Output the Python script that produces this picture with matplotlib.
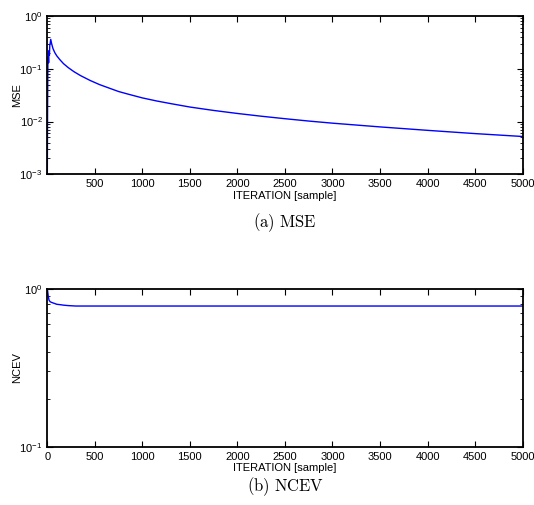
import numpy as np
import matplotlib
matplotlib.use("Agg")
import matplotlib.pyplot as plt
from matplotlib.ticker import LogLocator, NullFormatter

plt.rcParams['font.family'] = ['Liberation Sans', 'DejaVu Sans']
plt.rcParams['mathtext.default'] = 'regular'

# MSE curve
mse_iter = [0, 3, 6, 10, 14, 18, 22, 26, 30, 36, 45, 60, 80, 100, 130, 170, 220, 280,
            350, 450, 550, 650, 750, 850, 1000, 1150, 1300, 1500, 1750, 2000, 2250,
            2500, 2750, 3000, 3500, 4000, 4500, 5000]
mse_val = [0.001, 0.02, 0.12, 0.17, 0.13, 0.22, 0.18, 0.28, 0.30, 0.36, 0.30, 0.24,
           0.20, 0.175, 0.15, 0.125, 0.105, 0.088, 0.074, 0.060, 0.050, 0.043, 0.037,
           0.033, 0.028, 0.0245, 0.0218, 0.0188, 0.0162, 0.0142, 0.0126, 0.0113,
           0.0102, 0.0093, 0.0079, 0.0068, 0.0059, 0.0052]

# NCEV curve
ncev_iter = [0, 5, 10, 18, 30, 50, 75, 100, 140, 170, 220, 300, 500, 1000, 2000, 3000,
             4000, 5000]
ncev_val = [1.0, 0.95, 0.9, 0.85, 0.83, 0.82, 0.81, 0.80, 0.795, 0.79, 0.785, 0.78,
            0.78, 0.78, 0.78, 0.78, 0.78, 0.78]

xticks_top = list(range(500, 5001, 500))
xticks_bot = list(range(0, 5001, 500))

fig = plt.figure(figsize=(5.34, 5.05), dpi=100)


def style_axes(ax):
    for s in ax.spines.values():
        s.set_linewidth(1.3)
    ax.tick_params(which='both', direction='in', top=True, right=True, labelsize=8)
    ax.tick_params(which='major', length=4, width=0.8)
    ax.tick_params(which='minor', length=2, width=0.6)
    ax.yaxis.set_minor_locator(LogLocator(base=10, subs=np.arange(2, 10)))
    ax.yaxis.set_minor_formatter(NullFormatter())
    ax.set_xlabel('ITERATION [sample]', fontsize=8, labelpad=1)
    ax.yaxis.set_label_coords(-0.052, 0.5)


# (a) MSE
ax1 = fig.add_axes([0.0886, 0.6549, 0.890, 0.3135])
ax1.semilogy(mse_iter, mse_val, color='#0000ff', lw=1.0)
ax1.set_xlim(0, 5000)
ax1.set_ylim(1e-3, 1)
ax1.set_xticks(xticks_top)
ax1.set_ylabel('MSE', fontsize=8)
style_axes(ax1)
fig.text(0.534, 0.559, r'$\mathrm{(a)\ MSE}$', ha='center', va='center',
         fontsize=12, math_fontfamily='cm')

# (b) NCEV
ax2 = fig.add_axes([0.0886, 0.1154, 0.890, 0.3123])
ax2.semilogy(ncev_iter, ncev_val, color='#0000ff', lw=1.0)
ax2.set_xlim(0, 5000)
ax2.set_ylim(0.1, 1)
ax2.set_xticks(xticks_bot)
ax2.set_ylabel('NCEV', fontsize=8)
style_axes(ax2)
fig.text(0.534, 0.036, r'$\mathrm{(b)\ NCEV}$', ha='center', va='center',
         fontsize=12, math_fontfamily='cm')

fig.savefig('out.png', dpi=100)
